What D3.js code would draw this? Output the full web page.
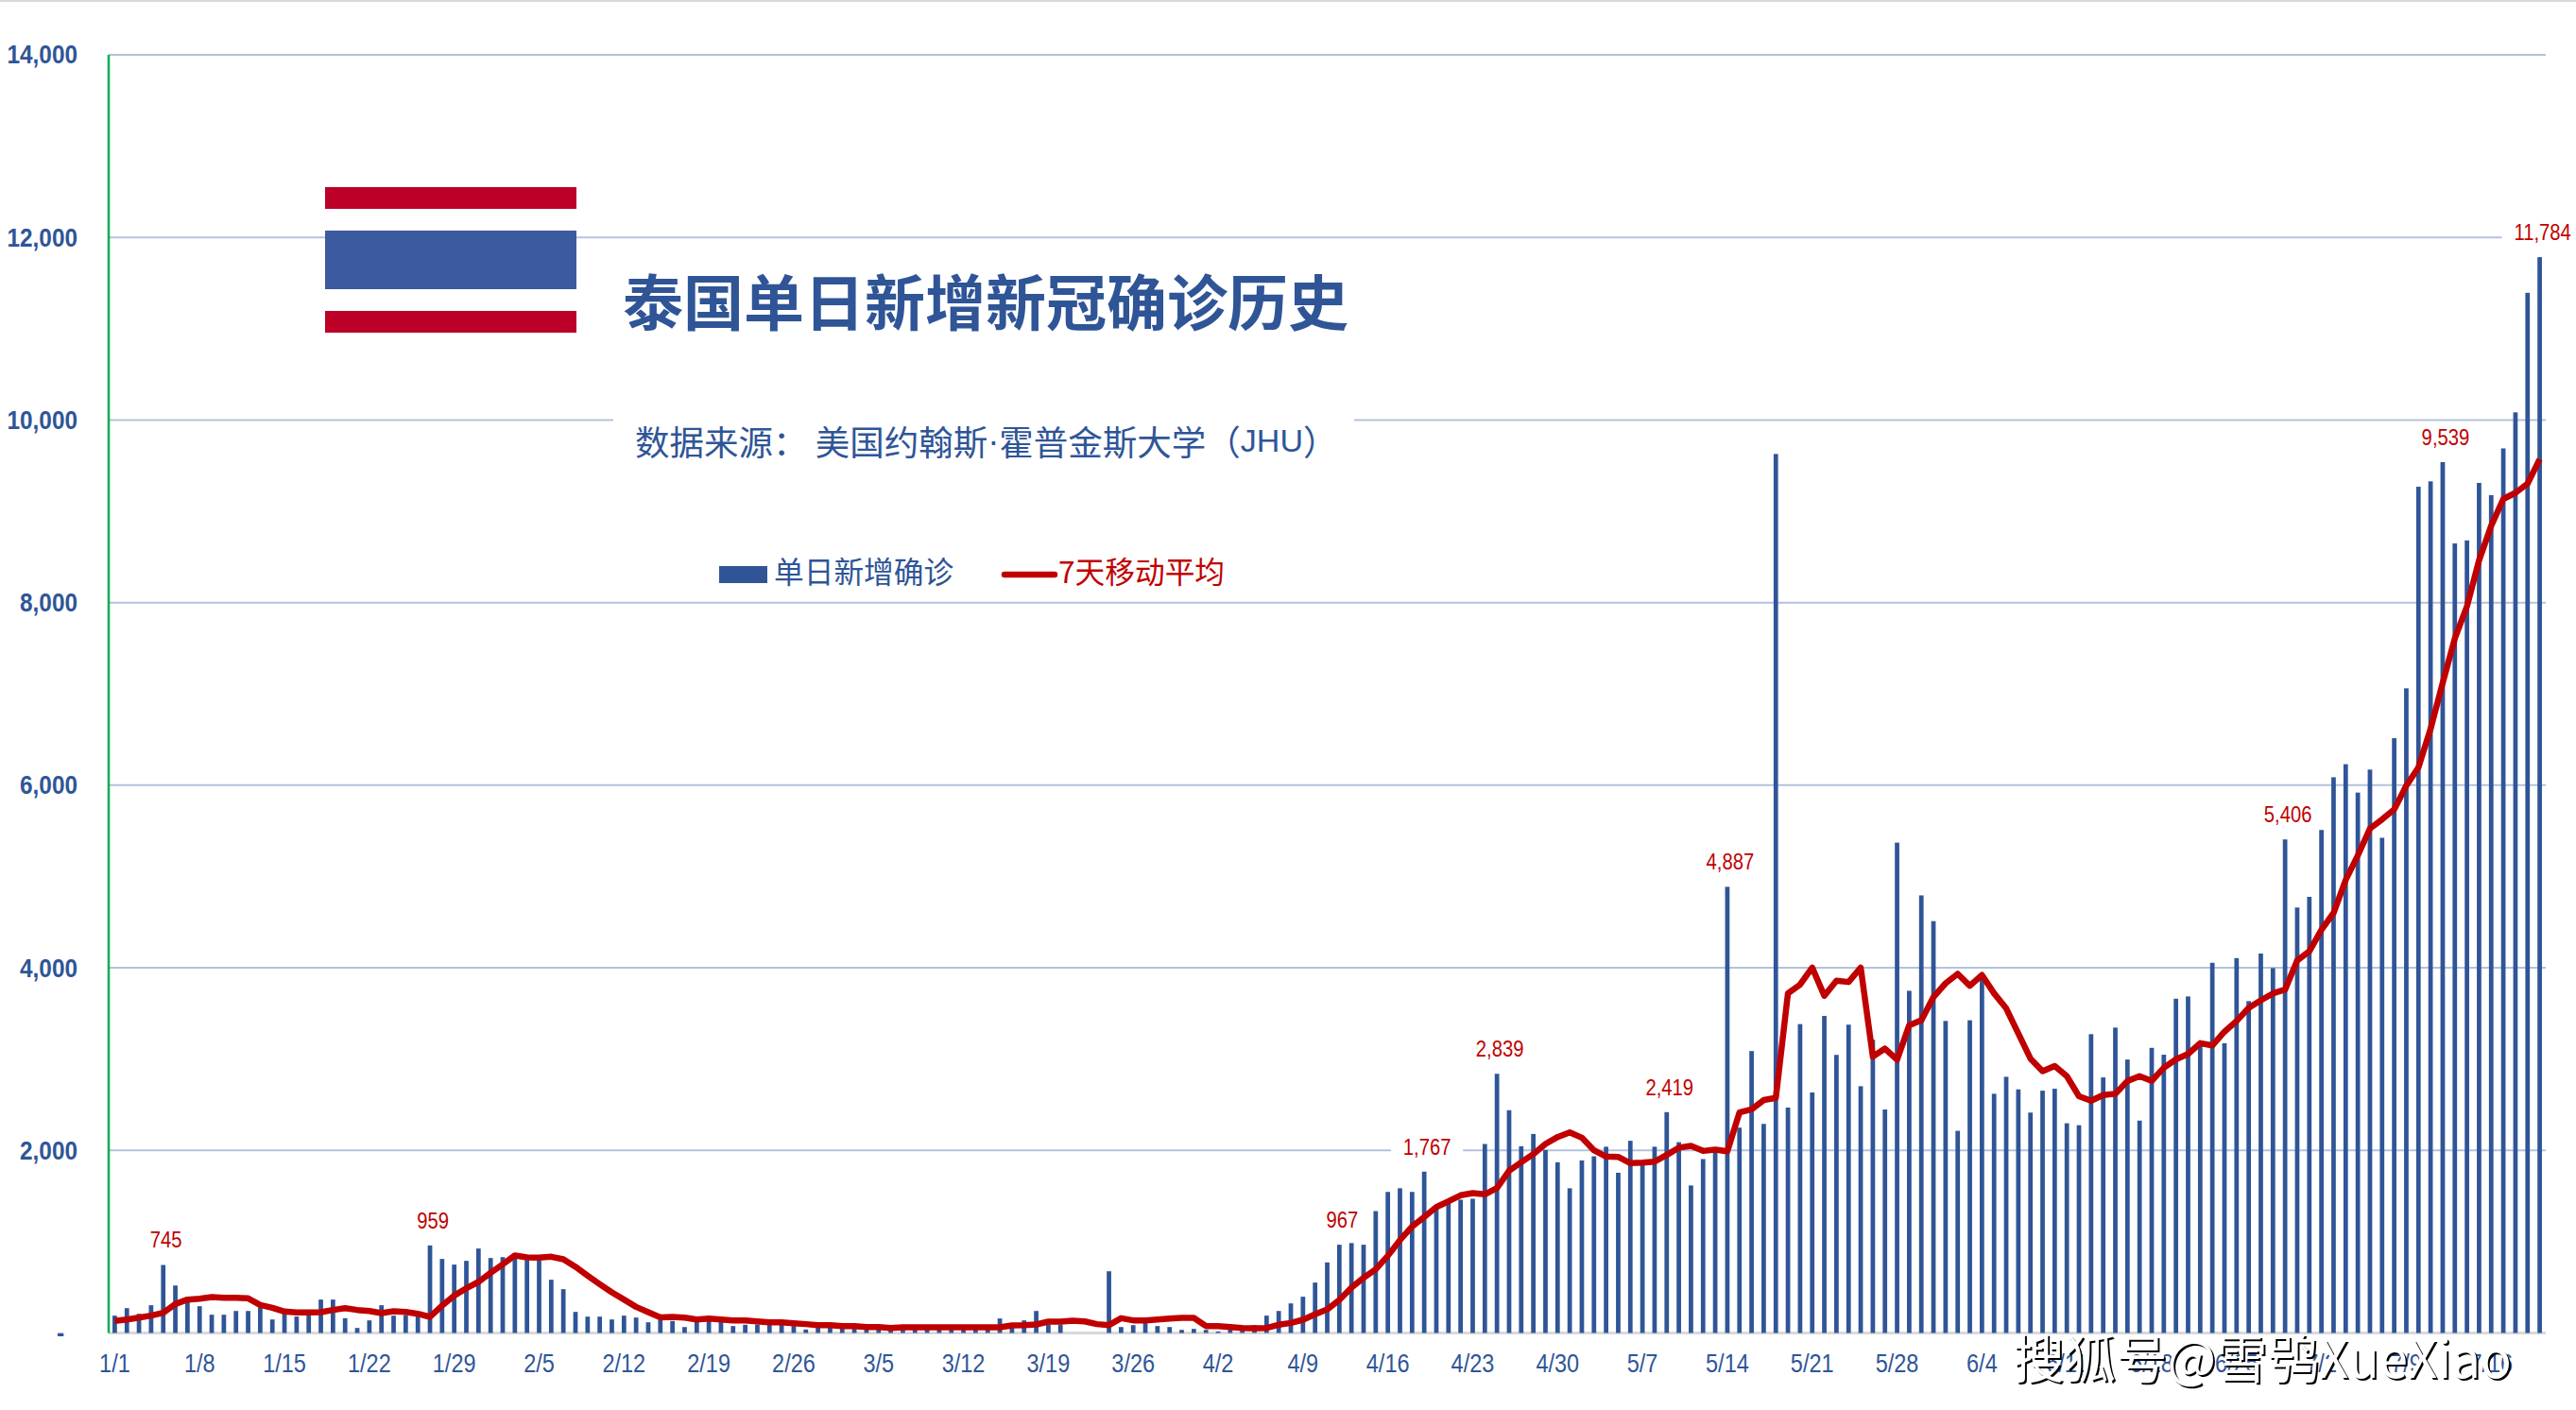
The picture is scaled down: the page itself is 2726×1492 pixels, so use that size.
<!DOCTYPE html>
<html lang="zh">
<head>
<meta charset="UTF-8">
<title>泰国单日新增新冠确诊历史</title>
<script src="https://d3js.org/d3.v7.min.js"></script>
<style>
    html, body { margin: 0; padding: 0; background: #fff; }
    svg { display: block; }
    .axis text { fill: #2f5597; font-family: "Liberation Sans", sans-serif; }
    .axis path, .axis line { display: none; }
    .cjk { font-family: "Noto Sans CJK SC", sans-serif; }
    .num-label { fill: #c00000; font-family: "Liberation Sans", sans-serif; font-size: 23px; text-anchor: middle; dominant-baseline: central; }
</style>
</head>
<body>
<div id="chart"></div>
<script>
// tick labels
const xTickLabels = ["1/1","1/8","1/15","1/22","1/29","2/5","2/12","2/19","2/26","3/5","3/12","3/19","3/26","4/2","4/9","4/16","4/23","4/30","5/7","5/14","5/21","5/28","6/4","6/11","6/18","6/25","7/2","7/9","7/16"];
const yTicks = [0, 2000, 4000, 6000, 8000, 10000, 12000, 14000];

// daily new cases, 1/1 to 7/20
const dailyCases = [
    190,272,210,304,745,520,380,293,200,200,241,241,283,148,210,180,210,366,366,162,55,138,304,190,197,186,
    959,811,749,790,925,821,831,850,800,818,583,480,231,179,179,148,190,169,117,145,
    131,65,127,134,120,76,90,93,100,110,93,38,76,86,69,69,69,65,48,41,48,45,50,50,50,45,55,159,93,138,241,93,93,0,0,0,
    676,65,86,110,76,65,34,45,34,17,41,48,86,190,241,324,397,552,
    773,967,985,967,1335,1545,1585,1545,1767,1390,1425,1460,1470,2070,2839,2440,2045,2180,2005,1870,1585,1890,1935,2040,1755,2105,1850,2040,2419,
    2090,1616,1905,1994,4887,2249,3088,2290,9628,2469,3383,2634,3473,3046,3377,2703,3212,2448,5371,3748,4793,4511,3418,2214,3425,3885,
    2620,2806,2668,2414,2654,2675,2297,2276,3273,2799,3345,2995,
    2326,3123,3048,3661,3686,3170,4055,3174,4106,3635,4156,3997,5406,4660,4777,5533,6087,6230,5919,6171,5424,6515,7061,
    9269,9328,9539,8648,8681,9311,9177,9689,10084,11393,11784
];

// 7 day moving average
const movingAvg = [
    131,148,169,190,221,317,366,376,393,386,386,380,307,276,235,224,224,228,252,272,252,241,217,238,231,210,
    176,300,410,490,559,659,752,849,828,825,835,807,725,628,535,445,366,286,228,172,
    176,169,148,159,148,138,138,127,117,117,107,97,86,86,76,76,65,65,55,62,62,62,62,62,62,62,62,62,83,86,93,124,124,134,127,97,
    86,162,138,138,148,159,166,166,76,76,65,55,52,55,90,110,145,205,
    258,362,497,604,697,845,1018,1166,1270,1380,1442,1508,1532,1518,1587,1777,1870,1960,2070,2146,2198,2139,2001,1932,1929,1860,1866,1877,1950,
    2029,2049,1994,2008,1990,2415,2450,2551,2575,3720,3817,4002,3693,3858,3844,4002,3026,3115,2992,3370,3425,3679,3830,3934,3803,3920,
    3720,3555,3280,3005,2868,2923,2813,2593,2544,2606,2620,2760,
    2813,2762,2905,2997,3056,3174,3149,3300,3417,3560,3644,3719,3761,4080,4181,4416,4601,4962,5231,5525,5625,5734,5995,
    6196,6616,7120,7607,7959,8463,8841,9135,9202,9303,9571
];

// bars that carry a red number
const labelledDays = ["1/5","1/27","4/12","4/19","4/25","5/9","5/14","6/29","7/12","7/20"];

const fmtDay = d3.timeFormat("%-m/%-d");
const days = dailyCases.map((_, i) => fmtDay(new Date(2021, 0, 1 + i)));

const W = 2726, H = 1492;
const margin = { top: 58, right: W - 2694, bottom: H - 1410.5, left: 115 };
const blue = "#2f5597", red = "#c00000", grid = "#b4c2dd";
const narrowY = 0.87, narrowX = 0.84, narrowNum = 0.88; // the original numbers are in a condensed face

const svg = d3.select("#chart").append("svg").attr("width", W).attr("height", H);

svg.append("rect").attr("width", W).attr("height", 2).attr("fill", "#d9d9d9");

const x = d3.scaleBand().domain(days).range([margin.left, W - margin.right]).paddingInner(0.63).paddingOuter(0.315);
const y = d3.scaleLinear().domain([0, 14000]).range([H - margin.bottom, margin.top]);
const cx = d => x(d) + x.bandwidth() / 2;

// gridlines
svg.append("g").selectAll("line").data(yTicks.slice(1)).join("line")
    .attr("x1", margin.left).attr("x2", W - margin.right)
    .attr("y1", d => y(d)).attr("y2", d => y(d))
    .attr("stroke", grid).attr("stroke-width", 2);

// baseline and left axis line
svg.append("line").attr("x1", margin.left).attr("x2", W - margin.right)
    .attr("y1", y(0)).attr("y2", y(0)).attr("stroke", "#d9d9d9").attr("stroke-width", 3);
svg.append("line").attr("x1", margin.left).attr("x2", margin.left)
    .attr("y1", y(14000)).attr("y2", y(0)).attr("stroke", "#00b050").attr("stroke-width", 2.5);

// axes
const yAxis = svg.append("g").attr("class", "axis").attr("transform", `translate(${margin.left},0)`)
    .call(d3.axisLeft(y).tickValues(yTicks).tickSize(0).tickPadding(33)
        .tickFormat(d => d === 0 ? "-" : d3.format(",")(d)));
yAxis.selectAll("text").style("font-size", "28px").style("font-weight", "bold")
    .attr("x", d => (d === 0 ? -47 : -33) / narrowY)
    .attr("transform", `scale(${narrowY},1)`);

svg.append("g").attr("class", "axis").attr("transform", `translate(0,${y(0)})`)
    .call(d3.axisBottom(x).tickValues(xTickLabels).tickSize(0).tickPadding(22))
    .selectAll("text").style("font-size", "28px").attr("transform", `scale(${narrowX},1)`);

// bars
svg.append("g").selectAll("rect").data(dailyCases).join("rect")
    .attr("x", (d, i) => x(days[i]))
    .attr("y", d => y(d))
    .attr("width", x.bandwidth())
    .attr("height", d => y(0) - y(d))
    .attr("fill", blue);

// moving average
const avgLine = d3.line().x((d, i) => cx(days[i])).y(d => y(d));
svg.append("path").attr("d", avgLine(movingAvg))
    .attr("fill", "none").attr("stroke", red).attr("stroke-width", 6.5).attr("stroke-linejoin", "round");

// red numbers, white box behind cuts the gridline
const labelled = labelledDays.map(day => ({ day, value: dailyCases[days.indexOf(day)] }));
const halfBox = d => d3.format(",")(d.value).length * 5 + 13;
const nums = svg.append("g").selectAll("g").data(labelled).join("g")
    .attr("transform", d => `translate(${cx(d.day) + 3},${y(d.value) - 26})`);
nums.append("rect")
    .attr("x", d => -halfBox(d)).attr("width", d => 2 * halfBox(d))
    .attr("y", -16).attr("height", 32).attr("fill", "#fff");
nums.append("text").attr("class", "num-label").attr("transform", `scale(${narrowNum},1)`)
    .text(d => d3.format(",")(d.value));

// flag
const flag = [[198, 23, "#bc0028"], [244, 62, "#3c5aa0"], [329, 23, "#bc0028"]];
svg.append("g").selectAll("rect").data(flag).join("rect")
    .attr("x", 344).attr("width", 266)
    .attr("y", d => d[0]).attr("height", d => d[1]).attr("fill", d => d[2]);

// title
svg.append("text").attr("class", "cjk").attr("x", 659).attr("y", 316)
    .attr("dominant-baseline", "central")
    .attr("font-size", 64).attr("font-weight", "bold").attr("fill", blue)
    .text("泰国单日新增新冠确诊历史");

// source
svg.append("rect").attr("x", 649).attr("y", 438).attr("width", 784).attr("height", 54).attr("fill", "#fff");
const source = svg.append("text").attr("class", "cjk").attr("x", 672).attr("y", 466)
    .attr("dominant-baseline", "central")
    .attr("font-size", 36.5).attr("fill", blue);
source.append("tspan").text("数据来源： 美国约翰斯");
source.append("tspan").attr("font-family", "Liberation Sans").text("·");
source.append("tspan").text("霍普金斯大学（");
source.append("tspan").attr("font-family", "Liberation Sans").attr("font-size", 34).text("JHU");
source.append("tspan").text("）");

// legend
svg.append("rect").attr("x", 761).attr("y", 599).attr("width", 51).attr("height", 18).attr("fill", blue);
svg.append("text").attr("class", "cjk").attr("x", 819).attr("y", 603)
    .attr("dominant-baseline", "central").attr("font-size", 31.7).attr("fill", blue).text("单日新增确诊");
svg.append("line").attr("x1", 1063).attr("x2", 1116).attr("y1", 608).attr("y2", 608)
    .attr("stroke", red).attr("stroke-width", 6.5).attr("stroke-linecap", "round");
svg.append("text").attr("class", "cjk").attr("x", 1120).attr("y", 603)
    .attr("dominant-baseline", "central").attr("font-size", 31.7).attr("fill", red).text("7天移动平均");

// watermark
const mark = "搜狐号@雪鸮XueXiao";
[["#000", 2], ["#fff", 0]].forEach(([c, off]) => {
    svg.append("text").attr("class", "cjk").attr("x", 2130 + off).attr("y", 1434 + off)
        .attr("dominant-baseline", "central").attr("font-size", 54.5).attr("fill", c).text(mark);
});
</script>
</body>
</html>
